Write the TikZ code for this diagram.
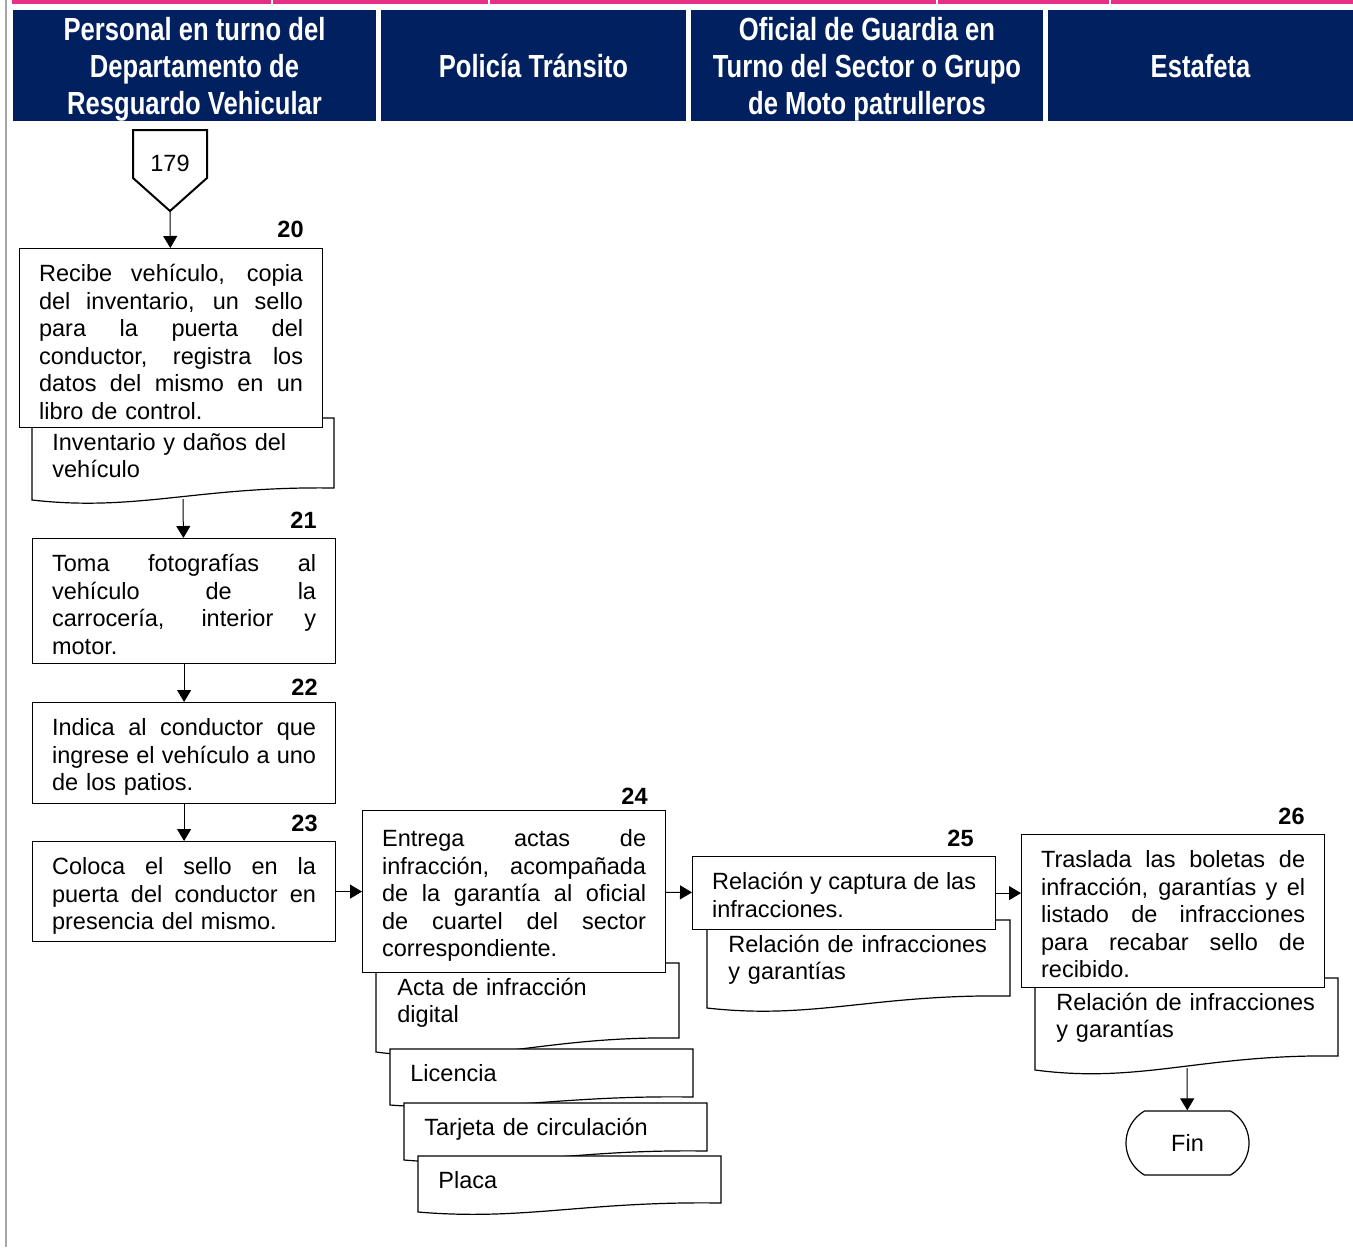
\documentclass[tikz,border=0pt]{standalone}
\usepackage{fontspec}
\setmainfont{Liberation Sans}
\newfontfamily\lanefont[FakeStretch=0.8]{Liberation Sans}
\usetikzlibrary{arrows.meta,shapes.misc}

\definecolor{lanenavy}{RGB}{0,32,96}
\definecolor{bandpink}{RGB}{231,47,134}

% one justified line of a step box
\newcommand{\jl}[1]{\makebox[\hsize][s]{\spaceskip=0pt\xspaceskip=0pt\relax#1}}
% document sheet: left, top, right, lower left corner, rise of the right end
\newcommand{\docsheet}[5]{%
 \filldraw[fill=white,line width=.6pt] (#1,#2) -- (#3,#2) -- (#3,{#4-#5})
  .. controls ({#1+.55*(#3-#1)},{#4-#5-2}) and ({#1+.35*(#3-#1)},{#4+#5}) .. (#1,#4) -- cycle;}

\begin{document}
\begin{tikzpicture}[x=.5pt,y=-.5pt,>={Triangle[length=6pt,width=7pt]},
 font=\fontsize{11.75}{13.75}\selectfont,
 lane/.style={fill=lanenavy,text=white,inner sep=0pt,minimum height=55.5pt,align=center,
  text depth=0pt,font=\lanefont\bfseries\fontsize{16}{18.5}\selectfont},
 act/.style={draw,fill=white,line width=.6pt,anchor=north west,text width=132pt,
  inner xsep=9.75pt,inner ysep=0pt,text height=16.5pt,align=left},
 doclabel/.style={anchor=base west,inner sep=0pt,text width=140pt,align=left},
 stepno/.style={anchor=east,inner sep=0pt,font=\bfseries\fontsize{11.75}{13.75}\selectfont},
 flow/.style={->,line width=.5pt},
 term/.style={draw,line width=.6pt,rounded rectangle,rounded rectangle arc length=120,
  minimum width=61.5pt,minimum height=32pt,inner sep=0pt}]
\useasboundingbox (0,0) rectangle (1353,1247);

% frame and top band
\draw[black!35,line width=1pt] (6,0) -- (6,1247);
\fill[bandpink] (12,0) rectangle (1353,4.5);
\foreach \x in {272,489,937,1110}{
 \draw[white,line width=1pt] (\x,0) -- (\x,4.5);
}

% lanes
\node[lane,minimum width=181.5pt] (l1) at (194.5,65.5) {Personal en turno del\\Departamento de\\Resguardo Vehicular};
\node[lane,minimum width=152.5pt] (l2) at (533.5,65.5) {Policía Tránsito};
\node[lane,minimum width=176pt] (l3) at (867,65.5) {Oficial de Guardia en\\Turno del Sector o Grupo\\de Moto patrulleros};
\node[lane,minimum width=152.5pt] (l4) at (1200.5,65.5) {Estafeta};

% off-page connector
\draw[line width=1pt,fill=white] (133,130) -- (207,130) -- (207,178) -- (170,211) -- (133,178) -- cycle;
\node (c179) at (170,163) {179};
\coordinate (c179tip) at (170,211);

% documents, drawn first so the boxes sit on them
\foreach \a/\b/\c/\d/\e in {32/418/334/500/12,376/963/679/1052/14,390/1049/693/1105/8,
 404/1103/707/1160/9,418/1156/721/1212/9,707/920/1010/1008/12,1035/978/1338/1070/14}{
 \docsheet{\a}{\b}{\c}{\d}{\e}
}
\node[doclabel] (d20) at (52,450) {Inventario y daños del\\vehículo};
\node[doclabel] (d24a) at (397,995) {Acta de infracción\\digital};
\node[doclabel] (d24b) at (410,1081) {Licencia};
\node[doclabel] (d24c) at (424,1135) {Tarjeta de circulación};
\node[doclabel] (d24d) at (438,1188) {Placa};
\node[doclabel] (d25) at (728,952) {Relación de infracciones\\y garantías};
\node[doclabel] (d26) at (1056,1010) {Relación de infracciones\\y garantías};
\coordinate (d20end) at (183,499);
\coordinate (d26end) at (1187,1068);

% steps
\node[act,text depth=73pt] (s20) at (19,248) {\jl{Recibe vehículo, copia}\\\jl{del inventario, un sello}\\\jl{para la puerta del}\\\jl{conductor, registra los}\\\jl{datos del mismo en un}\\libro de control.};
\node[act,text depth=46pt] (s21) at (32,538) {\jl{Toma fotografías al}\\\jl{vehículo de la}\\\jl{carrocería, interior y}\\motor.};
\node[act,text depth=34pt] (s22) at (32,702) {\jl{Indica al conductor que}\\\jl{ingrese el vehículo a uno}\\de los patios.};
\node[act,text depth=33.5pt] (s23) at (32,841) {\jl{Coloca el sello en la}\\\jl{puerta del conductor en}\\presencia del mismo.};
\node[act,text height=18pt,text depth=63pt] (s24) at (362,810) {\jl{Entrega actas de}\\\jl{infracción, acompañada}\\\jl{de la garantía al oficial}\\\jl{de cuartel del sector}\\correspondiente.};
\node[act,text depth=20pt] (s25) at (692,856) {\jl{Relación y captura de las}\\infracciones.};
\node[act,text depth=60pt] (s26) at (1021,834) {\jl{Traslada las boletas de}\\\jl{infracción, garantías y el}\\\jl{listado de infracciones}\\\jl{para recabar sello de}\\recibido.};
\node[term] (fin) at (1187.5,1143) {Fin};

\foreach \n/\x/\y in {20/304/229,21/317/520,22/318/687,23/318/823,24/648/796,25/974/838,26/1305/816}{
 \node[stepno] (n\n) at (\x,\y) {\n};
}

% connectors
\draw[flow] (c179tip) -- (s20);
\draw[flow] (d20end) -- (s21);
\draw[flow] (s21) -- (s22);
\draw[flow] (s22) -- (s23);
\draw[flow] (s23) -- (s24);
\draw[flow] (s24) -- (s25);
\draw[flow] (s25.east) -- (s25.east -| s26.west);
\draw[flow] (d26end) -- (fin);
\end{tikzpicture}
\end{document}
